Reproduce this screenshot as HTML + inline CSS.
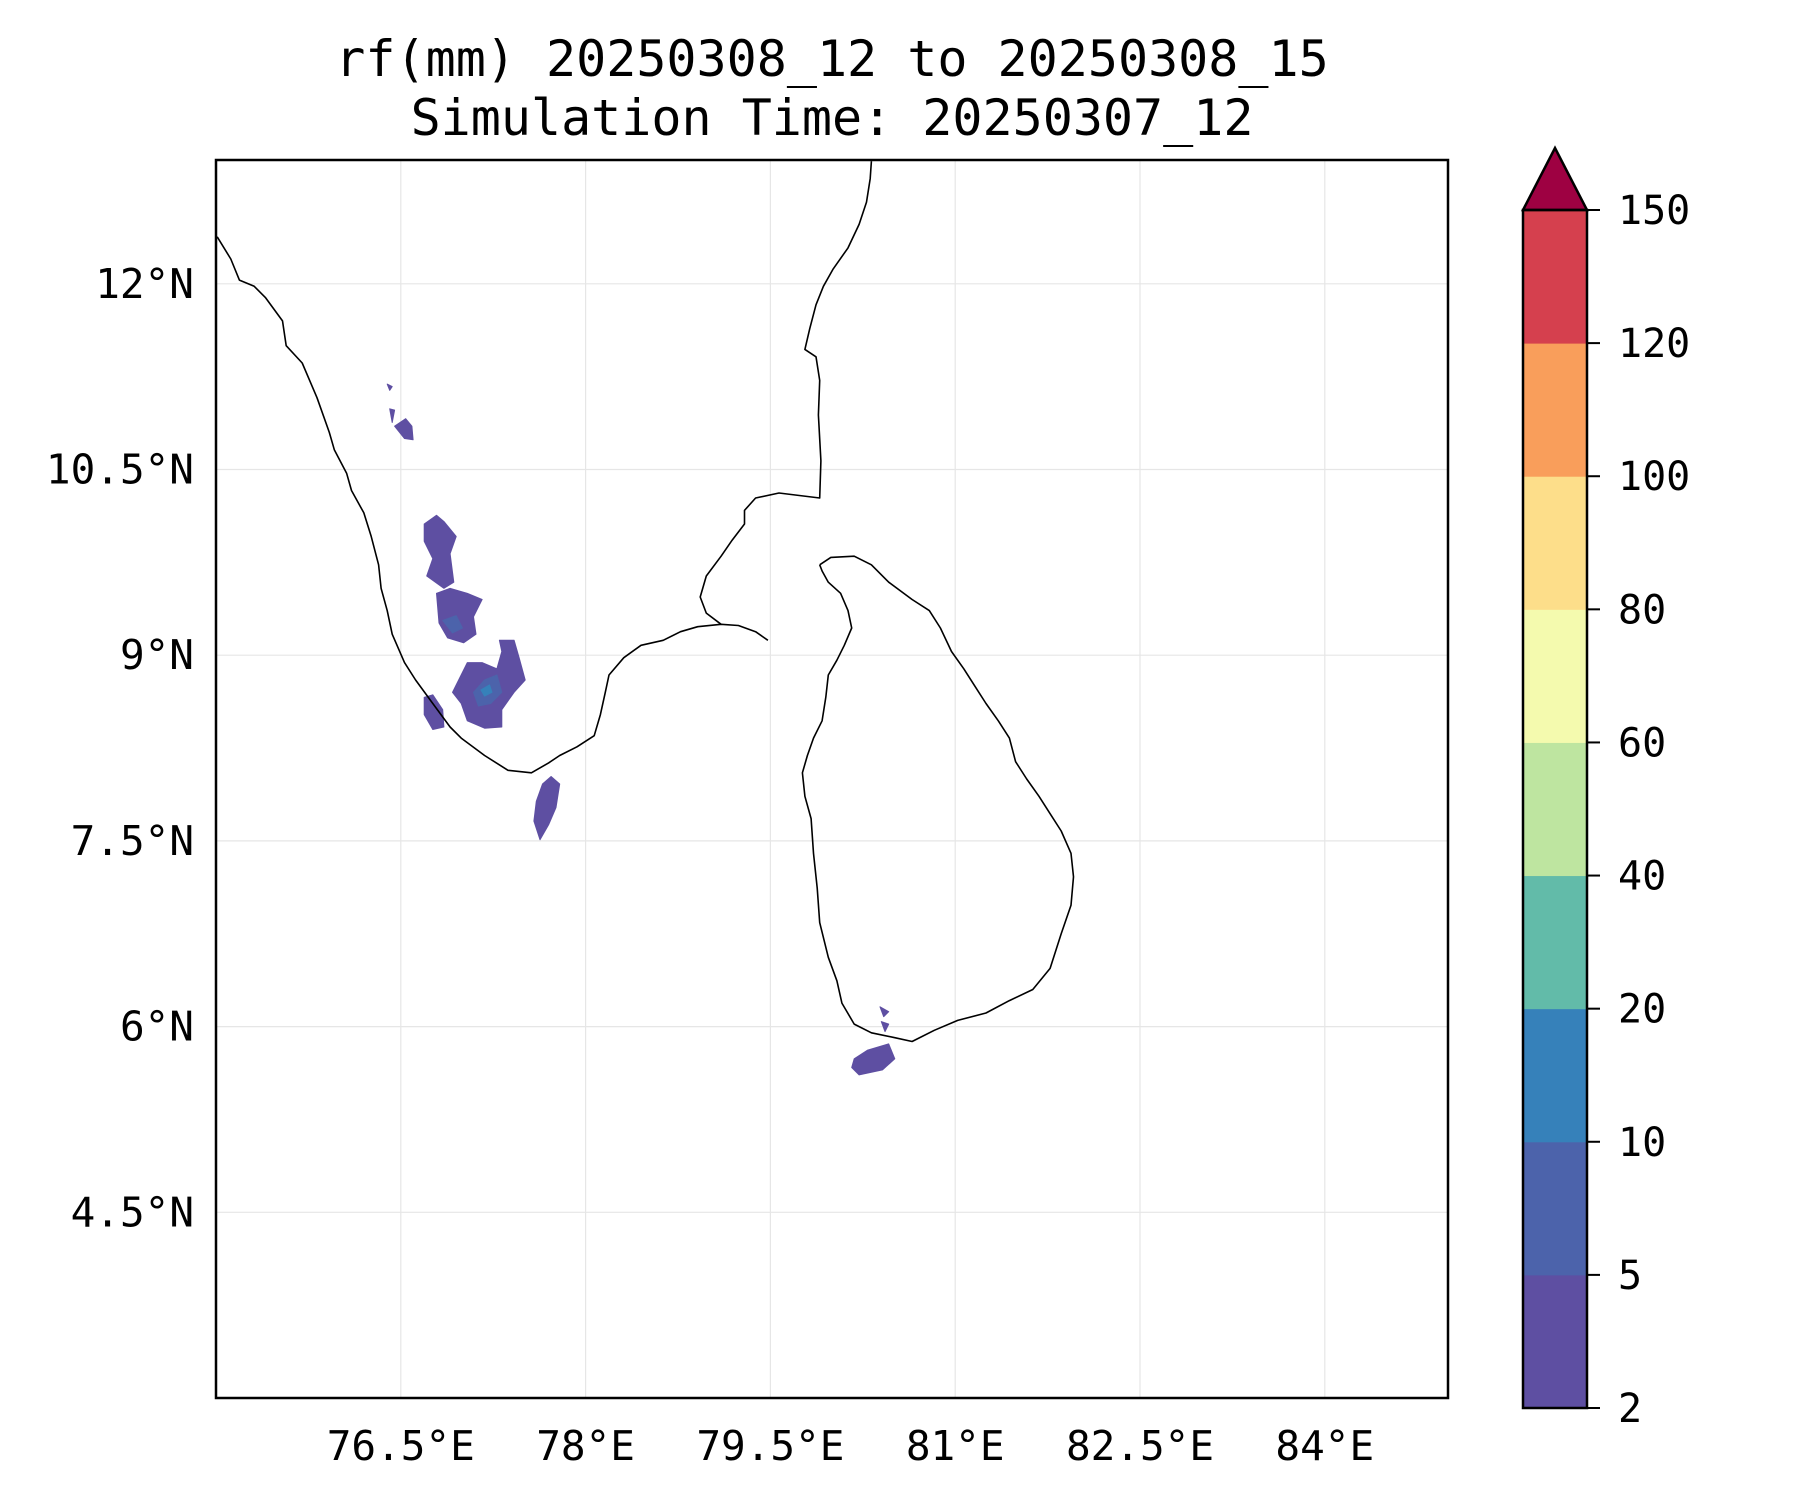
<!DOCTYPE html>
<html><head><meta charset="utf-8"><style>
html,body{margin:0;padding:0;background:#fff}
svg{display:block}
text{font-family:"DejaVu Sans Mono","Liberation Mono",monospace;fill:#000}
</style></head><body>
<svg id="chart" width="1800" height="1500" viewBox="0 0 1800 1500" xmlns="http://www.w3.org/2000/svg">
<text x="832" y="76" font-size="50" text-anchor="middle">rf(mm) 20250308_12 to 20250308_15</text>
<text x="832" y="135" font-size="50" text-anchor="middle">Simulation Time: 20250307_12</text>
<g id="grid"></g>
<g id="rain"></g>
<g id="coast"></g>
<rect x="216" y="160" width="1232" height="1238" fill="none" stroke="#000" stroke-width="2.5"/>
<g id="axes"></g>
<g id="cbar"></g>
</svg>
<script>
const lonTicks=[76.5,78,79.5,81,82.5,84];
const lonLabels=["76.5°E","78°E","79.5°E","81°E","82.5°E","84°E"];
const latTicks=[12,10.5,9,7.5,6,4.5];
const latLabels=["12°N","10.5°N","9°N","7.5°N","6°N","4.5°N"];
const cbLevels=[2,5,10,20,40,60,80,100,120,150];
const cbColors=["#5e4fa2","#4c63ab","#3681ba","#62bba9","#bee5a0","#f4faae","#fdde8a","#f99e5b","#d5404e"];
const cbExtendColor="#9e0142";
const coastWest=[[75.01,12.38],[75.12,12.20],[75.19,12.03],[75.31,11.98],[75.40,11.89],[75.54,11.70],[75.57,11.50],[75.70,11.36],[75.82,11.08],[75.92,10.80],[75.96,10.66],[76.06,10.47],[76.10,10.33],[76.20,10.15],[76.26,9.96],[76.32,9.73],[76.34,9.54],[76.39,9.36],[76.43,9.17],[76.53,8.94],[76.62,8.80],[76.76,8.61],[76.90,8.42],[76.99,8.33],[77.18,8.19],[77.37,8.07],[77.56,8.05],[77.70,8.13],[77.79,8.19],[77.93,8.26],[78.07,8.35],[78.12,8.52],[78.16,8.70],[78.19,8.84],[78.31,8.98],[78.45,9.08],[78.63,9.12],[78.77,9.19],[78.91,9.23],[79.10,9.25],[79.24,9.24],[79.38,9.19],[79.48,9.12]];
const coastEast=[[79.10,9.25],[78.98,9.34],[78.93,9.47],[78.98,9.64],[79.10,9.80],[79.19,9.93],[79.29,10.06],[79.29,10.17],[79.38,10.27],[79.57,10.31],[79.90,10.27],[79.91,10.57],[79.89,10.94],[79.90,11.22],[79.87,11.41],[79.78,11.47],[79.82,11.64],[79.87,11.83],[79.93,11.98],[80.01,12.12],[80.13,12.29],[80.22,12.48],[80.28,12.66],[80.31,12.85],[80.32,12.99]];
const coastSriLanka=[[79.90,9.73],[79.99,9.79],[80.18,9.80],[80.32,9.73],[80.46,9.59],[80.65,9.45],[80.79,9.36],[80.88,9.22],[80.97,9.03],[81.07,8.89],[81.16,8.75],[81.25,8.61],[81.35,8.47],[81.44,8.33],[81.49,8.14],[81.58,8.00],[81.68,7.86],[81.77,7.72],[81.86,7.58],[81.94,7.40],[81.96,7.21],[81.94,6.98],[81.86,6.75],[81.77,6.47],[81.63,6.30],[81.44,6.21],[81.25,6.11],[81.02,6.05],[80.83,5.97],[80.65,5.88],[80.51,5.91],[80.32,5.95],[80.18,6.02],[80.08,6.19],[80.04,6.37],[79.97,6.56],[79.90,6.84],[79.88,7.12],[79.85,7.40],[79.83,7.68],[79.78,7.86],[79.76,8.05],[79.80,8.19],[79.85,8.33],[79.92,8.47],[79.95,8.66],[79.97,8.84],[80.04,8.96],[80.10,9.08],[80.16,9.22],[80.13,9.36],[80.07,9.50],[79.97,9.59],[79.92,9.68],[79.90,9.73]];
const rainLow=[
[[76.69,10.06],[76.79,10.13],[76.85,10.08],[76.95,9.96],[76.90,9.82],[76.93,9.59],[76.85,9.54],[76.71,9.64],[76.76,9.78],[76.69,9.92]],
[[76.79,9.50],[76.90,9.54],[77.04,9.50],[77.16,9.45],[77.09,9.31],[77.11,9.17],[77.01,9.10],[76.88,9.14],[76.81,9.26]],
[[77.04,8.94],[77.16,8.94],[77.28,8.89],[77.32,9.03],[77.30,9.12],[77.42,9.12],[77.46,8.98],[77.51,8.80],[77.42,8.70],[77.32,8.56],[77.32,8.42],[77.18,8.41],[77.04,8.47],[76.99,8.61],[76.92,8.70]],
[[76.69,8.66],[76.76,8.68],[76.84,8.56],[76.85,8.42],[76.76,8.40],[76.69,8.52]],
[[77.65,7.96],[77.72,8.02],[77.79,7.96],[77.76,7.77],[77.70,7.63],[77.63,7.51],[77.58,7.66],[77.60,7.82]],
[[76.45,10.85],[76.54,10.91],[76.59,10.85],[76.60,10.74],[76.53,10.75]],
[[76.41,10.99],[76.45,10.98],[76.43,10.88]],
[[76.39,11.19],[76.43,11.17],[76.41,11.14]],
[[80.18,5.74],[80.29,5.81],[80.46,5.86],[80.51,5.74],[80.41,5.65],[80.22,5.61],[80.16,5.67]],
[[80.39,6.16],[80.46,6.12],[80.42,6.08]],
[[80.40,6.04],[80.46,6.02],[80.43,5.96]]];
const rainMid=[
[[77.09,8.70],[77.18,8.80],[77.28,8.84],[77.32,8.70],[77.23,8.61],[77.13,8.59]],
[[76.84,9.28],[76.95,9.32],[77.00,9.22],[76.92,9.18]]];
const rainHigh=[[[77.15,8.72],[77.22,8.76],[77.24,8.70],[77.18,8.67]]];

const NS="http://www.w3.org/2000/svg";
const X0=216,X1=1448,Y0=160,Y1=1398,LON0=75,LON1=85,LAT0=3,LAT1=13;
const xs=lon=>X0+(lon-LON0)/(LON1-LON0)*(X1-X0);
const ys=lat=>Y1-(lat-LAT0)/(LAT1-LAT0)*(Y1-Y0);
function mk(tag,attrs,parent){const e=document.createElementNS(NS,tag);for(const k in attrs)e.setAttribute(k,attrs[k]);parent.appendChild(e);return e;}
const grid=document.getElementById('grid'),axes=document.getElementById('axes');
lonTicks.forEach((v,i)=>{
 const l=mk('line',{x1:xs(v),x2:xs(v),y1:Y0,y2:Y1,stroke:'#e6e6e6','stroke-width':1.2},grid);
 
 
 const t=mk('text',{x:xs(v),y:1460,'font-size':41,'text-anchor':'middle'},axes);
 t.textContent=lonLabels[i];
 
 
});
latTicks.forEach((v,i)=>{
 const l=mk('line',{x1:X0,x2:X1,y1:ys(v),y2:ys(v),stroke:'#e6e6e6','stroke-width':1.2},grid);
 
 
 const t=mk('text',{x:194,y:ys(v)+14,'font-size':41,'text-anchor':'end'},axes);
 t.textContent=latLabels[i];
 
 
});
const pts=a=>a.map(p=>xs(p[0]).toFixed(1)+','+ys(p[1]).toFixed(1)).join(' ');
const rain=document.getElementById('rain');
[[rainLow,cbColors[0]],[rainMid,cbColors[1]],[rainHigh,cbColors[2]]].forEach(([set,c])=>{
 set.forEach(poly=>{
  const p=mk('polygon',{points:pts(poly),fill:c,stroke:c,'stroke-width':1,'stroke-linejoin':'round'},rain);
  
  
 });
});
const coast=document.getElementById('coast');
[coastWest,coastEast,coastSriLanka].forEach(line=>{
 const p=mk('polyline',{points:pts(line),fill:'none',stroke:'#000','stroke-width':1.6,'stroke-linejoin':'round'},coast);
 
 
});
const cb=document.getElementById('cbar');
const CX0=1523,CX1=1587,CY0=1408,CY1=210,n=cbLevels.length-1,seg=(CY0-CY1)/n;
cbColors.forEach((c,i)=>{
 const r=mk('rect',{x:CX0,y:CY0-(i+1)*seg,width:CX1-CX0,height:seg+0.5,fill:c},cb);
 
 
});
const tri=mk('polygon',{points:`${CX0},${CY1} ${CX1},${CY1} ${(CX0+CX1)/2},148`,fill:cbExtendColor,stroke:'#000','stroke-width':2.5,'stroke-linejoin':'miter'},cb);


const fr=mk('rect',{x:CX0,y:CY1,width:CX1-CX0,height:CY0-CY1,fill:'none',stroke:'#000','stroke-width':2.5},cb);


cbLevels.forEach((v,i)=>{
 const y=CY0-i*seg;
 const tk=mk('line',{x1:CX1,x2:CX1+13,y1:y,y2:y,stroke:'#000','stroke-width':2},cb);
 
 
 const t=mk('text',{x:1618,y:y+14,'font-size':40},cb);
 t.textContent=v;
 
 
});
</script>
</body></html>
